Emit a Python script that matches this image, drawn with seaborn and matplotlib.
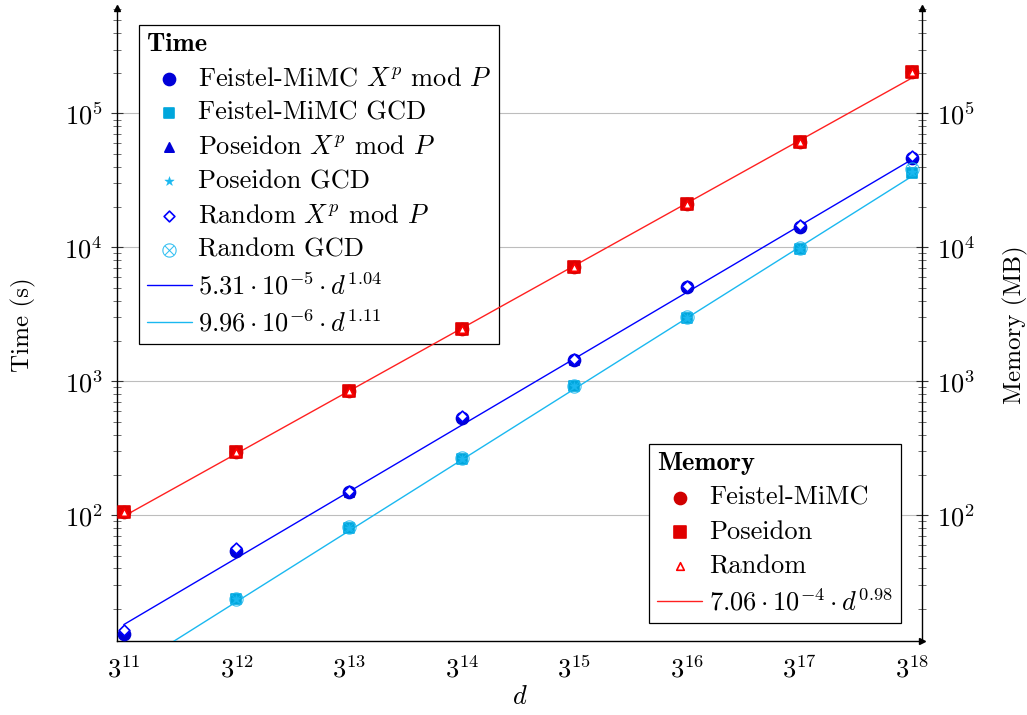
import numpy as np
import pandas as pd
import matplotlib
matplotlib.use("Agg")
import matplotlib.pyplot as plt
from matplotlib.ticker import FixedLocator, LogLocator, NullFormatter
import seaborn as sns

# ================= DATA =================
exponents = [11, 12, 13, 14, 15, 16, 17, 18]
d_values = [3 ** e for e in exponents]

# time (s)
feistel_xp = [13, 54, 148, 530, 1430, 5050, 14200, 46500]
poseidon_xp = [13.5, 55, 150, 540, 1450, 5100, 14400, 47000]
random_xp = [14, 57, 152, 550, 1470, 5150, 14600, 48000]
feistel_gcd = [6.5, 23.5, 80, 265, 920, 2950, 9800, 36000]
poseidon_gcd = [6.5, 23.5, 80, 265, 920, 2950, 9800, 36500]
random_gcd = [6.6, 23.8, 81, 268, 925, 3000, 9900, 38500]

# memory (MB)
feistel_mem = [105, 295, 840, 2450, 7100, 21000, 61000, 205000]
poseidon_mem = [105, 295, 840, 2450, 7100, 21000, 61000, 205000]
random_mem = [105, 295, 840, 2450, 7100, 21000, 61000, 205000]

# fitted power laws a * d^b (from the legend)
fit_xp = (5.31e-5, 1.04)
fit_gcd = (9.96e-6, 1.11)
fit_mem = (7.06e-4, 0.98)

BLUE = "#0000ff"
CYAN = "#00a6dc"
CYAN_LIGHT = "#1ab8f0"
RED = "#e00000"

# ================= STYLE =================
sns.set_style("white")
plt.rcParams["font.family"] = ["cmr10"]
plt.rcParams["mathtext.fontset"] = "cm"
plt.rcParams["axes.formatter.use_mathtext"] = True
plt.rcParams["axes.unicode_minus"] = False
plt.rcParams["text.color"] = "black"
plt.rcParams["axes.labelcolor"] = "black"

fig = plt.figure(figsize=(10.27, 7.15), dpi=100)
ax = fig.add_axes([0.114, 0.1035, 0.784, 0.885])
ax2 = ax.twinx()

df = pd.DataFrame({"d": d_values})
fit_d = np.array([d_values[0], d_values[-1]], dtype=float)


def scatter(axis, y, marker, color, label, size, filled=True, lw=1.2):
    sns.scatterplot(x=df["d"], y=y, ax=axis, marker=marker, s=size,
                    color=color if filled else "white",
                    edgecolor=color, linewidth=lw, label=label, zorder=5)


def fit_line(axis, coef, color, label):
    a, b = coef
    sns.lineplot(x=fit_d, y=a * fit_d ** b, ax=axis, color=color,
                 linewidth=1.0, label=label, zorder=3)


# ================= TIME =================
scatter(ax, feistel_xp, "o", "#0000d8", r"Feistel-MiMC $X^p$ mod $P$", 75)
scatter(ax, feistel_gcd, "s", CYAN, "Feistel-MiMC GCD", 60)
scatter(ax, poseidon_xp, "^", "#0000d8", r"Poseidon $X^p$ mod $P$", 45)
scatter(ax, poseidon_gcd, "*", CYAN_LIGHT, "Poseidon GCD", 50, lw=0.3)
scatter(ax, random_xp, "D", BLUE, r"Random $X^p$ mod $P$", 30, filled=False)
scatter(ax, random_gcd, r"$\otimes$", CYAN_LIGHT, "Random GCD", 100, lw=0.2)
fit_line(ax, fit_xp, BLUE, r"$5.31\cdot10^{-5}\cdot d^{1.04}$")
fit_line(ax, fit_gcd, CYAN_LIGHT, r"$9.96\cdot10^{-6}\cdot d^{1.11}$")

# ================= MEMORY =================
scatter(ax2, feistel_mem, "o", "#d00000", "Feistel-MiMC", 75)
scatter(ax2, poseidon_mem, "s", RED, "Poseidon", 75)
scatter(ax2, random_mem, "^", "#ff0000", "Random", 30, filled=False)
fit_line(ax2, fit_mem, "#ff2020", r"$7.06\cdot10^{-4}\cdot d^{0.98}$")

# ================= AXES =================
xlim = (3 ** 10.94, 3 ** 18.09)
ylim = (11.5, 6.1e5)
for a in (ax, ax2):
    a.set_xscale("log", base=3)
    a.set_yscale("log")
    a.set_xlim(*xlim)
    a.set_ylim(*ylim)
    a.yaxis.set_major_locator(FixedLocator([1e2, 1e3, 1e4, 1e5]))
    a.yaxis.set_minor_locator(LogLocator(base=10, subs=np.arange(2, 10), numticks=20))
    a.yaxis.set_minor_formatter(NullFormatter())
    a.tick_params(axis="y", which="major", direction="inout", length=9, width=0.8,
                  labelsize=19, colors="#333333", labelcolor="black", pad=6)
    a.tick_params(axis="y", which="minor", direction="inout", length=6, width=0.6,
                  colors="#555555")
    for s in a.spines.values():
        s.set_visible(False)

ax.set_xticks(d_values)
ax.set_xticklabels([rf"$3^{{{e}}}$" for e in exponents])
ax.xaxis.set_minor_locator(FixedLocator([]))
ax.tick_params(axis="x", which="major", direction="inout", length=9, width=0.8,
               labelsize=19, colors="#555555", labelcolor="black", pad=6)
ax2.tick_params(axis="x", which="both", bottom=False, labelbottom=False)

ax.spines["left"].set_visible(True)
ax.spines["bottom"].set_visible(True)
ax2.spines["right"].set_visible(True)
for s in (ax.spines["left"], ax.spines["bottom"], ax2.spines["right"]):
    s.set_color("black")
    s.set_linewidth(1.0)

ax.grid(axis="y", which="major", color="#bdbdbd", linewidth=0.8)
ax.set_axisbelow(True)

ax.set_xlabel(r"$d$", fontsize=19, labelpad=2)
ax.set_ylabel("Time (s)", fontsize=18, labelpad=20)
ax2.set_ylabel("Memory (MB)", fontsize=18, labelpad=20)

# axis arrows
ax.plot(0, 1, "^k", ms=5, transform=ax.transAxes, clip_on=False, zorder=10)
ax.plot(1, 0, ">k", ms=5, transform=ax.transAxes, clip_on=False, zorder=10)
ax2.plot(1, 1, "^k", ms=5, transform=ax2.transAxes, clip_on=False, zorder=10)

# ================= LEGENDS =================
leg_kw = dict(fontsize=19, frameon=True, fancybox=False, edgecolor="black",
              framealpha=1.0, borderpad=0.3, labelspacing=0.4, borderaxespad=0,
              handlelength=1.7, handletextpad=0.25,
              title_fontproperties={"family": "cmb10", "size": 19})

h1, l1 = ax.get_legend_handles_labels()
leg1 = ax.legend(h1, l1, title="Time", loc="upper left",
                 bbox_to_anchor=(0.027, 0.973), **leg_kw)
leg1._legend_box.align = "left"
leg1.get_frame().set_linewidth(0.9)

h2, l2 = ax2.get_legend_handles_labels()
leg2 = ax2.legend(h2, l2, title="Memory", loc="lower right",
                  bbox_to_anchor=(0.973, 0.028), **leg_kw)
leg2._legend_box.align = "left"
leg2.get_frame().set_linewidth(0.9)

fig.savefig("out.png", dpi=100)
